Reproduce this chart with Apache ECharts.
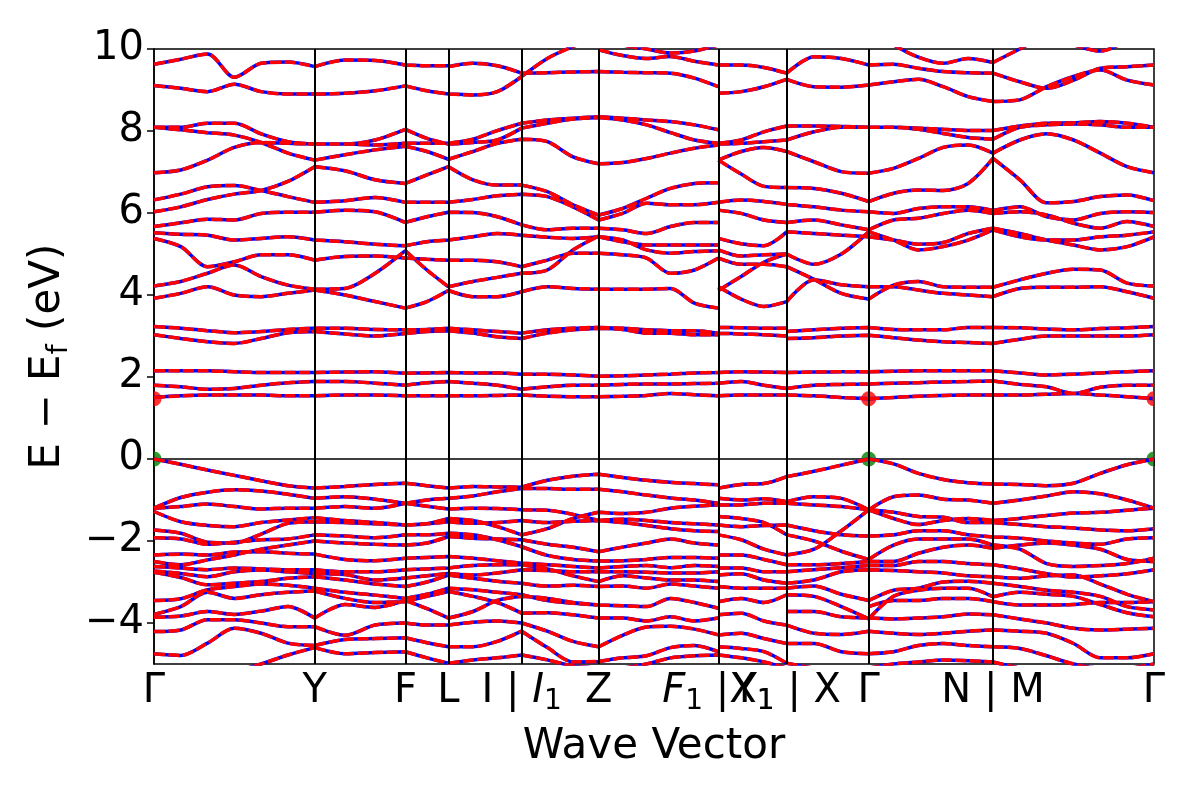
<!DOCTYPE html>
<html><head><meta charset="utf-8">
<script src="https://cdn.jsdelivr.net/npm/echarts@6/dist/echarts.min.js"></script>
<style>html,body{margin:0;padding:0;background:#fff}#c{width:1200px;height:800px}</style>
</head><body><div id="c"></div>
<script>
// k-path positions of the high-symmetry points and their labels
const kTicks = [0, 160.7, 251.4, 294.5, 367.7, 444.7, 564.4, 632.7, 714.7, 839, 1000];
const kLabels = ['Γ', 'Y', 'F', 'L', 'I | {i|I}{s|1}', 'Z', '{i|F}{s|1} |X{s|1}', 'Y{s|1} | X', 'Γ', 'N | M', 'Γ'];
const yTicks = [-4, -2, 0, 2, 4, 6, 8, 10];

// band energies (eV) sampled evenly along each path segment
const segGY = [
  [9.63, 9.75, 9.88, 9.31, 9.65, 9.68, 9.57],
  [9.11, 9.04, 8.96, 9.14, 8.96, 8.90, 8.90],
  [8.09, 8.09, 8.19, 8.19, 7.93, 7.74, 7.68],
  [8.09, 8.03, 7.96, 7.90, 7.72, 7.46, 7.29],
  [6.98, 7.05, 7.29, 7.60, 7.72, 7.70, 7.68],
  [6.32, 6.46, 6.64, 6.67, 6.55, 6.40, 6.26],
  [6.03, 6.15, 6.33, 6.46, 6.55, 6.77, 7.13],
  [5.67, 5.76, 5.85, 5.83, 5.99, 6.02, 6.02],
  [5.52, 5.48, 5.46, 5.34, 5.38, 5.42, 5.34],
  [5.38, 5.18, 4.69, 4.81, 4.98, 4.98, 4.85],
  [4.22, 4.33, 4.53, 4.73, 4.45, 4.24, 4.14],
  [3.92, 4.04, 4.20, 4.00, 3.96, 4.04, 4.12],
  [3.23, 3.19, 3.13, 3.08, 3.11, 3.16, 3.19],
  [3.03, 2.94, 2.86, 2.82, 2.94, 3.08, 3.11],
  [2.15, 2.15, 2.15, 2.13, 2.11, 2.11, 2.11],
  [1.80, 1.76, 1.70, 1.72, 1.80, 1.86, 1.89],
  [1.50, 1.54, 1.56, 1.56, 1.56, 1.54, 1.54],
  [0.00, -0.13, -0.27, -0.40, -0.53, -0.65, -0.71],
  [-1.20, -0.94, -0.81, -0.75, -0.78, -0.86, -0.96],
  [-1.20, -1.16, -1.10, -1.16, -1.22, -1.20, -1.20],
  [-1.28, -1.53, -1.62, -1.65, -1.55, -1.49, -1.43],
  [-1.73, -1.81, -2.03, -2.05, -1.83, -1.57, -1.53],
  [-1.92, -1.95, -2.08, -2.03, -1.97, -1.95, -1.85],
  [-2.34, -2.32, -2.34, -2.27, -2.26, -2.30, -2.32],
  [-2.50, -2.58, -2.46, -2.34, -2.20, -2.10, -2.00],
  [-2.62, -2.66, -2.70, -2.66, -2.68, -2.70, -2.70],
  [-2.73, -2.79, -2.87, -2.75, -2.71, -2.75, -2.79],
  [-2.76, -2.89, -3.07, -3.03, -2.99, -2.91, -2.87],
  [-3.45, -3.41, -3.19, -3.11, -3.05, -3.08, -3.15],
  [-3.79, -3.60, -3.25, -3.40, -3.31, -3.25, -3.22],
  [-3.86, -3.83, -3.72, -3.79, -3.71, -3.60, -3.88],
  [-4.21, -4.17, -3.92, -3.92, -4.00, -4.09, -4.09],
  [-4.75, -4.79, -4.49, -4.13, -4.25, -4.49, -4.55],
  [-5.18, -5.27, -5.27, -5.18, -5.00, -4.78, -4.60]
];
const segYF = [
  [9.57, 9.73, 9.72, 9.61],
  [8.90, 8.92, 8.98, 9.10],
  [7.68, 7.68, 7.78, 8.04],
  [7.29, 7.42, 7.54, 7.63],
  [7.68, 7.68, 7.66, 7.70],
  [6.26, 6.30, 6.38, 6.26],
  [7.13, 7.03, 6.81, 6.72],
  [6.02, 6.07, 6.03, 5.77],
  [5.34, 5.30, 5.24, 5.20],
  [4.85, 4.94, 4.95, 4.90],
  [4.14, 4.16, 4.53, 5.08],
  [4.12, 4.00, 3.84, 3.68],
  [3.19, 3.19, 3.16, 3.15],
  [3.11, 3.05, 3.00, 3.06],
  [2.11, 2.12, 2.13, 2.09],
  [1.89, 1.89, 1.85, 1.80],
  [1.54, 1.56, 1.56, 1.54],
  [-0.71, -0.67, -0.62, -0.59],
  [-0.96, -0.92, -0.98, -1.08],
  [-1.20, -1.16, -1.20, -1.08],
  [-1.43, -1.50, -1.55, -1.61],
  [-1.53, -1.55, -1.58, -1.61],
  [-1.85, -1.88, -1.92, -1.85],
  [-2.00, -2.05, -2.08, -2.10],
  [-2.32, -2.45, -2.48, -2.42],
  [-2.70, -2.75, -2.75, -2.70],
  [-2.79, -2.82, -2.95, -2.90],
  [-2.87, -2.95, -3.05, -3.11],
  [-3.15, -3.25, -3.32, -3.40],
  [-3.22, -3.40, -3.50, -3.48],
  [-3.88, -3.55, -3.62, -3.45],
  [-4.09, -4.30, -4.05, -4.00],
  [-4.55, -4.40, -4.38, -4.36],
  [-4.60, -4.75, -4.72, -4.70]
];
const segFL = [
  [9.61, 9.59, 9.59],
  [9.10, 8.98, 8.90],
  [8.04, 7.82, 7.68],
  [7.70, 7.70, 7.70],
  [7.63, 7.50, 7.31],
  [6.72, 6.93, 7.13],
  [6.26, 6.26, 6.26],
  [5.77, 5.91, 6.02],
  [5.20, 5.30, 5.34],
  [4.90, 4.87, 4.85],
  [5.08, 4.61, 4.20],
  [3.68, 3.84, 4.11],
  [3.15, 3.16, 3.19],
  [3.06, 3.11, 3.13],
  [2.09, 2.10, 2.11],
  [1.80, 1.86, 1.89],
  [1.54, 1.54, 1.54],
  [-0.59, -0.65, -0.71],
  [-1.08, -1.00, -0.96],
  [-1.08, -1.15, -1.22],
  [-1.61, -1.58, -1.45],
  [-1.61, -1.58, -1.53],
  [-1.85, -1.85, -1.81],
  [-2.10, -2.05, -1.89],
  [-2.42, -2.40, -2.38],
  [-2.70, -2.68, -2.66],
  [-2.90, -2.85, -2.79],
  [-3.11, -3.00, -2.83],
  [-3.40, -3.30, -3.15],
  [-3.48, -3.35, -3.23],
  [-3.45, -3.65, -3.88],
  [-4.00, -4.05, -4.05],
  [-4.36, -4.48, -4.58],
  [-4.70, -4.85, -4.98]
];
const segLI = [
  [9.57, 9.65, 9.59, 9.41],
  [8.90, 8.88, 8.96, 9.33],
  [7.70, 7.80, 8.01, 8.19],
  [7.68, 7.72, 7.78, 8.07],
  [7.31, 7.50, 7.70, 7.80],
  [7.13, 6.81, 6.68, 6.68],
  [6.26, 6.33, 6.42, 6.46],
  [6.02, 6.01, 5.91, 5.71],
  [5.34, 5.42, 5.50, 5.46],
  [4.85, 4.85, 4.81, 4.69],
  [4.20, 4.33, 4.43, 4.53],
  [4.11, 3.96, 3.96, 4.08],
  [3.19, 3.15, 3.11, 3.07],
  [3.13, 3.07, 2.98, 2.94],
  [2.11, 2.10, 2.10, 2.07],
  [1.89, 1.85, 1.80, 1.70],
  [1.54, 1.54, 1.55, 1.56],
  [-0.71, -0.67, -0.68, -0.69],
  [-0.96, -0.90, -0.80, -0.72],
  [-1.22, -1.20, -1.21, -1.24],
  [-1.45, -1.50, -1.65, -1.85],
  [-1.53, -1.57, -1.55, -1.50],
  [-1.81, -1.85, -1.97, -2.14],
  [-1.89, -1.93, -1.95, -1.97],
  [-2.38, -2.42, -2.48, -2.54],
  [-2.66, -2.60, -2.58, -2.58],
  [-2.79, -2.83, -2.78, -2.70],
  [-2.83, -2.91, -2.98, -3.03],
  [-3.15, -3.19, -3.25, -3.31],
  [-3.23, -3.35, -3.50, -3.76],
  [-3.88, -3.72, -3.45, -3.35],
  [-4.05, -3.98, -3.95, -4.00],
  [-4.58, -4.58, -4.45, -4.20],
  [-4.98, -4.90, -4.85, -4.78]
];
const segIZ = [
  [9.41, 9.42, 9.44, 9.45],
  [9.33, 9.77, 10.06, 10.30],
  [8.19, 8.27, 8.31, 8.35],
  [8.07, 8.19, 8.29, 8.33],
  [7.80, 7.74, 7.37, 7.20],
  [6.68, 6.52, 6.20, 5.95],
  [6.46, 6.40, 6.15, 5.83],
  [5.71, 5.59, 5.63, 5.63],
  [5.46, 5.41, 5.38, 5.42],
  [4.69, 4.85, 5.02, 5.02],
  [4.53, 4.61, 5.10, 5.44],
  [4.08, 4.20, 4.16, 4.14],
  [3.07, 3.15, 3.19, 3.21],
  [2.94, 3.07, 3.15, 3.19],
  [2.07, 2.07, 2.05, 2.02],
  [1.70, 1.76, 1.80, 1.80],
  [1.56, 1.53, 1.52, 1.52],
  [-0.69, -0.52, -0.42, -0.37],
  [-0.72, -0.72, -0.74, -0.74],
  [-1.24, -1.25, -1.35, -1.50],
  [-1.50, -1.55, -1.52, -1.50],
  [-1.85, -1.70, -1.45, -1.30],
  [-1.97, -2.08, -2.15, -2.26],
  [-2.14, -2.35, -2.45, -2.49],
  [-2.54, -2.58, -2.62, -2.66],
  [-2.70, -2.72, -2.75, -2.75],
  [-2.58, -2.68, -2.85, -2.99],
  [-3.03, -3.10, -3.08, -3.11],
  [-3.31, -3.45, -3.52, -3.56],
  [-3.35, -3.40, -3.50, -3.56],
  [-3.76, -3.75, -3.80, -3.88],
  [-4.00, -4.20, -4.45, -4.58],
  [-4.20, -4.60, -4.95, -4.94],
  [-4.78, -4.90, -5.05, -5.10]
];
const segZF1 = [
  [9.45, 9.43, 9.42, 9.41, 9.29, 9.08],
  [9.98, 9.84, 9.77, 9.82, 9.70, 9.61],
  [10.30, 10.10, 10.00, 9.90, 9.95, 10.10],
  [8.35, 8.31, 8.27, 8.23, 8.15, 8.03],
  [8.33, 8.27, 8.15, 7.96, 7.78, 7.70],
  [7.20, 7.23, 7.33, 7.46, 7.58, 7.66],
  [5.95, 6.11, 6.36, 6.60, 6.72, 6.74],
  [5.83, 5.99, 6.24, 6.20, 6.20, 6.26],
  [5.63, 5.59, 5.50, 5.67, 5.77, 5.77],
  [5.42, 5.30, 5.22, 5.22, 5.22, 5.22],
  [5.42, 5.34, 5.10, 5.02, 5.06, 5.08],
  [5.02, 4.98, 4.90, 4.53, 4.61, 4.90],
  [4.14, 4.14, 4.14, 4.16, 3.80, 3.68],
  [3.21, 3.19, 3.15, 3.13, 3.13, 3.07],
  [3.19, 3.16, 3.07, 3.07, 3.03, 3.03],
  [2.02, 2.03, 2.05, 2.07, 2.10, 2.11],
  [1.80, 1.82, 1.83, 1.83, 1.84, 1.85],
  [1.52, 1.53, 1.55, 1.60, 1.57, 1.54],
  [-0.37, -0.45, -0.52, -0.57, -0.60, -0.63],
  [-0.74, -0.80, -0.88, -0.95, -1.00, -1.08],
  [-1.30, -1.33, -1.30, -1.20, -1.15, -1.12],
  [-1.50, -1.47, -1.50, -1.55, -1.58, -1.61],
  [-1.50, -1.55, -1.62, -1.70, -1.75, -1.77],
  [-2.26, -2.15, -2.05, -1.95, -2.05, -2.10],
  [-2.49, -2.48, -2.45, -2.40, -2.40, -2.42],
  [-2.66, -2.62, -2.60, -2.65, -2.60, -2.62],
  [-2.75, -2.75, -2.76, -2.78, -2.78, -2.75],
  [-2.99, -2.85, -2.90, -2.95, -2.95, -2.99],
  [-3.11, -3.10, -3.15, -3.05, -3.10, -3.15],
  [-3.56, -3.58, -3.60, -3.40, -3.50, -3.64],
  [-3.88, -3.88, -3.95, -3.85, -3.95, -3.88],
  [-4.58, -4.30, -4.10, -4.08, -4.15, -4.29],
  [-4.94, -4.85, -4.80, -4.60, -4.55, -4.70],
  [-5.20, -5.10, -5.00, -4.85, -4.80, -4.78]
];
const segX1Y1 = [
  [9.61, 9.61, 9.55, 9.41],
  [8.92, 8.96, 9.08, 9.26],
  [7.70, 7.78, 7.98, 8.12],
  [7.68, 7.70, 7.74, 7.78],
  [7.29, 7.50, 7.60, 7.50],
  [7.29, 6.95, 6.65, 6.62],
  [6.26, 6.32, 6.28, 6.21],
  [6.07, 5.99, 5.83, 5.77],
  [5.38, 5.25, 5.20, 5.54],
  [5.10, 4.95, 4.98, 5.00],
  [4.90, 4.75, 4.75, 4.69],
  [4.20, 3.90, 3.72, 3.84],
  [4.11, 4.45, 4.80, 5.00],
  [3.21, 3.20, 3.19, 3.19],
  [3.07, 3.05, 3.03, 3.00],
  [2.11, 2.13, 2.12, 2.11],
  [1.85, 1.89, 1.80, 1.72],
  [1.54, 1.56, 1.56, 1.56],
  [-0.71, -0.62, -0.60, -0.43],
  [-0.96, -1.00, -0.97, -1.04],
  [-1.12, -1.12, -1.08, -1.08],
  [-1.40, -1.45, -1.55, -1.85],
  [-1.61, -1.65, -1.62, -1.61],
  [-1.85, -1.97, -2.20, -2.34],
  [-2.34, -2.34, -2.45, -2.58],
  [-2.66, -2.66, -2.75, -2.75],
  [-2.83, -2.80, -2.95, -3.03],
  [-3.11, -3.15, -3.15, -3.15],
  [-3.48, -3.40, -3.50, -3.31],
  [-3.80, -3.76, -3.95, -4.05],
  [-4.29, -4.25, -4.38, -4.50],
  [-4.58, -4.62, -4.70, -4.98],
  [-4.78, -4.85, -4.95, -5.10]
];
const segXG = [
  [9.41, 9.81, 9.77, 9.61],
  [9.26, 9.08, 9.07, 9.12],
  [8.12, 8.12, 8.11, 8.09],
  [7.78, 7.98, 8.09, 8.09],
  [7.50, 7.25, 7.01, 6.97],
  [6.62, 6.60, 6.48, 6.28],
  [6.21, 6.15, 6.07, 6.03],
  [5.77, 5.83, 5.71, 5.59],
  [5.54, 5.50, 5.46, 5.42],
  [5.00, 4.75, 5.00, 5.54],
  [4.69, 4.38, 4.04, 3.90],
  [3.84, 4.37, 4.25, 4.20],
  [3.11, 3.15, 3.19, 3.21],
  [2.94, 2.96, 3.00, 3.02],
  [2.11, 2.12, 2.13, 2.13],
  [1.72, 1.80, 1.82, 1.83],
  [1.56, 1.54, 1.50, 1.47],
  [-0.43, -0.30, -0.15, 0.00],
  [-1.04, -0.92, -0.96, -1.24],
  [-1.08, -1.12, -1.16, -1.24],
  [-1.61, -1.75, -1.85, -1.88],
  [-2.34, -2.20, -1.75, -1.24],
  [-1.85, -2.00, -2.25, -2.45],
  [-2.58, -2.58, -2.55, -2.50],
  [-2.75, -2.70, -2.65, -2.60],
  [-3.03, -2.95, -2.75, -2.70],
  [-3.15, -3.10, -3.30, -3.45],
  [-3.31, -3.35, -3.60, -3.90],
  [-3.72, -3.72, -3.85, -3.88],
  [-4.05, -4.25, -4.28, -4.20],
  [-4.50, -4.50, -4.70, -4.75],
  [-4.98, -5.10, -5.15, -5.10]
];
const segGN = [
  [9.61, 9.63, 9.53, 9.45, 9.42, 9.41],
  [10.50, 10.10, 9.80, 9.65, 9.77, 9.67],
  [9.12, 9.20, 9.26, 9.08, 8.84, 8.72],
  [8.09, 8.09, 8.07, 8.04, 8.01, 8.01],
  [8.09, 8.09, 8.04, 7.94, 7.84, 7.80],
  [6.97, 7.09, 7.33, 7.60, 7.66, 7.46],
  [6.28, 6.48, 6.56, 6.55, 6.72, 7.33],
  [6.03, 5.99, 6.11, 6.15, 6.15, 6.06],
  [5.59, 5.83, 5.87, 5.99, 6.07, 5.99],
  [5.42, 5.34, 5.24, 5.28, 5.50, 5.63],
  [5.54, 5.34, 5.10, 5.18, 5.34, 5.59],
  [3.90, 4.24, 4.33, 4.20, 4.19, 4.19],
  [4.20, 4.20, 4.12, 4.04, 4.00, 3.96],
  [3.21, 3.16, 3.15, 3.15, 3.21, 3.21],
  [3.02, 2.96, 2.90, 2.86, 2.84, 2.82],
  [2.13, 2.14, 2.15, 2.15, 2.15, 2.15],
  [1.83, 1.85, 1.86, 1.88, 1.89, 1.90],
  [1.47, 1.50, 1.53, 1.55, 1.56, 1.56],
  [0.00, -0.12, -0.35, -0.50, -0.58, -0.61],
  [-1.24, -0.92, -0.88, -0.98, -1.00, -1.08],
  [-1.24, -1.45, -1.60, -1.50, -1.45, -1.50],
  [-1.24, -1.30, -1.40, -1.42, -1.55, -1.55],
  [-1.88, -1.85, -1.75, -1.75, -1.85, -1.90],
  [-2.45, -2.10, -1.95, -1.95, -1.95, -2.10],
  [-2.50, -2.50, -2.30, -2.15, -2.10, -2.18],
  [-2.60, -2.60, -2.50, -2.50, -2.55, -2.58],
  [-2.70, -2.72, -2.75, -2.78, -2.85, -2.87],
  [-3.45, -3.20, -3.15, -3.00, -2.98, -3.03],
  [-3.90, -3.35, -3.20, -3.15, -3.15, -3.36],
  [-3.60, -3.45, -3.45, -3.40, -3.40, -3.48],
  [-3.88, -3.90, -3.88, -3.85, -3.78, -3.80],
  [-4.20, -4.25, -4.28, -4.25, -4.20, -4.17],
  [-4.75, -4.70, -4.55, -4.50, -4.55, -4.58],
  [-5.10, -5.00, -4.95, -4.90, -4.92, -4.95]
];
const segMG = [
  [9.41, 9.20, 9.04, 9.24, 9.53, 9.57, 9.61],
  [8.72, 8.76, 9.08, 9.33, 9.49, 9.24, 9.12],
  [9.67, 10.00, 10.30, 10.10, 9.95, 10.20, 10.50],
  [8.01, 8.12, 8.19, 8.20, 8.23, 8.19, 8.09],
  [7.80, 8.09, 8.15, 8.17, 8.15, 8.09, 8.09],
  [7.46, 7.78, 7.93, 7.78, 7.46, 7.13, 6.98],
  [7.33, 6.81, 6.25, 6.28, 6.40, 6.44, 6.30],
  [6.06, 6.15, 5.91, 5.83, 5.99, 6.03, 6.01],
  [5.99, 6.03, 5.95, 5.75, 5.63, 5.79, 5.67],
  [5.63, 5.50, 5.34, 5.22, 5.10, 5.18, 5.42],
  [5.59, 5.42, 5.34, 5.34, 5.42, 5.46, 5.54],
  [4.19, 4.37, 4.53, 4.63, 4.61, 4.29, 4.22],
  [3.96, 4.16, 4.19, 4.19, 4.20, 4.08, 3.92],
  [3.21, 3.20, 3.17, 3.15, 3.18, 3.20, 3.23],
  [2.82, 2.92, 3.00, 3.00, 3.00, 3.00, 3.03],
  [2.15, 2.10, 2.05, 2.07, 2.10, 2.13, 2.15],
  [1.90, 1.82, 1.76, 1.60, 1.75, 1.80, 1.80],
  [1.56, 1.56, 1.58, 1.60, 1.56, 1.52, 1.47],
  [-0.61, -0.62, -0.65, -0.59, -0.35, -0.14, 0.00],
  [-1.08, -1.00, -0.90, -0.80, -0.85, -1.00, -1.20],
  [-1.50, -1.45, -1.38, -1.32, -1.30, -1.25, -1.20],
  [-1.55, -1.60, -1.65, -1.68, -1.73, -1.75, -1.70],
  [-1.90, -1.93, -2.00, -2.05, -2.08, -1.95, -1.92],
  [-2.10, -2.20, -2.55, -2.62, -2.60, -2.55, -2.42],
  [-2.18, -2.10, -2.05, -2.10, -2.20, -2.45, -2.50],
  [-2.58, -2.68, -2.80, -2.88, -2.85, -2.80, -2.70],
  [-2.87, -2.91, -2.85, -2.83, -3.05, -3.30, -3.48],
  [-3.03, -3.11, -3.20, -3.25, -3.35, -3.60, -3.68],
  [-3.36, -3.25, -3.30, -3.35, -3.55, -3.75, -3.85],
  [-3.48, -3.56, -3.56, -3.55, -3.50, -3.50, -3.48],
  [-3.80, -3.90, -4.00, -4.13, -4.17, -4.15, -4.13],
  [-4.17, -4.20, -4.25, -4.50, -4.85, -4.85, -4.75],
  [-4.58, -4.62, -4.80, -5.00, -5.10, -5.10, -5.00],
  [-4.95, -5.10, -5.20, -5.20, -5.20, -5.20, -5.20]
];
const segments = [segGY, segYF, segFL, segLI, segIZ, segZF1, segX1Y1, segXG, segGN, segMG];
const vbmPoints = [[0, 0], [714.7, 0], [1000, 0]];
const cbmPoints = [[0, 1.47], [714.7, 1.47], [1000, 1.47]];

// build line data with breaks between bands
const lineData = [];
segments.forEach((seg, s) => {
  const x0 = kTicks[s], x1 = kTicks[s + 1];
  seg.forEach(band => {
    const n = band.length;
    band.forEach((e, i) => lineData.push([x0 + (x1 - x0) * i / (n - 1), e]));
    lineData.push([x1, '-']);
  });
});

// extremum markers: half-discs at the frame edges (as if clipped by the plot box)
const DOT = 15;
const RIGHT_HALF = 'path://M0,0 C0.552,0 1,0.448 1,1 C1,1.552 0.552,2 0,2 Z';
const LEFT_HALF = 'path://M1,0 C0.448,0 0,0.448 0,1 C0,1.552 0.448,2 1,2 Z';
function markerItems(points) {
  return points.map(p => {
    if (p[0] <= kTicks[0]) return { value: p, symbol: RIGHT_HALF, symbolKeepAspect: false, symbolSize: [DOT / 2, DOT], symbolOffset: [DOT / 4, 0] };
    if (p[0] >= kTicks[kTicks.length - 1]) return { value: p, symbol: LEFT_HALF, symbolKeepAspect: false, symbolSize: [DOT / 2, DOT], symbolOffset: [-DOT / 4, 0] };
    return { value: p, symbol: 'circle', symbolSize: DOT };
  });
}

const FONT = 'DejaVu Sans';
const chart = echarts.init(document.getElementById('c'), null, { renderer: 'canvas' });
chart.setOption({
  animation: false,
  backgroundColor: '#fff',
  grid: { left: 154, top: 49, width: 1000, height: 615, show: true, borderColor: '#000', borderWidth: 1.5, backgroundColor: 'transparent' },
  xAxis: {
    type: 'value', min: 0, max: 1000,
    axisLine: { show: true, lineStyle: { color: '#000', width: 1.5 } },
    axisTick: { show: true, inside: false, length: 7, lineStyle: { color: '#000', width: 1.5 }, customValues: kTicks },
    axisLabel: {
      customValues: kTicks, color: '#000', fontSize: 40, fontFamily: FONT, margin: 4, lineHeight: 48,
      formatter: v => { let best = 0; kTicks.forEach((t, i) => { if (Math.abs(t - v) < Math.abs(kTicks[best] - v)) best = i; }); return kLabels[best]; },
      rich: {
        i: { fontStyle: 'italic', fontSize: 40, fontFamily: FONT, color: '#000', lineHeight: 48 },
        s: { fontSize: 28, fontFamily: FONT, color: '#000', lineHeight: 30, verticalAlign: 'bottom' }
      }
    },
    splitLine: { show: false },
    name: 'Wave Vector', nameLocation: 'middle', nameGap: 62,
    nameTextStyle: { color: '#000', fontSize: 42, fontFamily: FONT }
  },
  yAxis: {
    type: 'value', min: -5, max: 10,
    axisLine: { show: true, lineStyle: { color: '#000', width: 1.5 } },
    axisTick: { show: true, inside: false, length: 7, lineStyle: { color: '#000', width: 1.5 }, customValues: yTicks },
    axisLabel: {
      customValues: yTicks, color: '#000', fontSize: 40, fontFamily: FONT, margin: 10,
      formatter: v => (v < 0 ? '\u2212' + Math.abs(v) : String(v))
    },
    splitLine: { show: false },
    name: '{n|E \u2212 E}{s|f}{n| (eV)}', nameLocation: 'middle', nameRotate: 90, nameGap: 72,
    nameTextStyle: {
      color: '#000',
      rich: {
        n: { fontSize: 42, fontFamily: FONT, color: '#000', lineHeight: 52 },
        s: { fontSize: 29, fontFamily: FONT, color: '#000', lineHeight: 52, verticalAlign: 'bottom' }
      }
    }
  },
  series: [
    { type: 'scatter', data: markerItems(cbmPoints), itemStyle: { color: '#ff0000' }, z: 1, clip: true, silent: true },
    { type: 'scatter', data: markerItems(vbmPoints), itemStyle: { color: '#008000' }, z: 1, clip: true, silent: true },
    { type: 'line', data: lineData, showSymbol: false, smooth: 0.3, connectNulls: false, clip: true, z: 2, silent: true,
      lineStyle: { color: '#0000ff', width: 3.5 } },
    { type: 'line', data: lineData, showSymbol: false, smooth: 0.3, connectNulls: false, clip: true, z: 3, silent: true,
      lineStyle: { color: '#ff0000', width: 3.5, type: [11, 3.5] },
      markLine: { silent: true, symbol: ['none', 'none'], label: { show: false },
        lineStyle: { color: '#000', width: 2, type: 'solid' },
        data: kTicks.slice(1, -1).map(x => ({ xAxis: x })) } }
  ]
});
</script>
</body></html>
